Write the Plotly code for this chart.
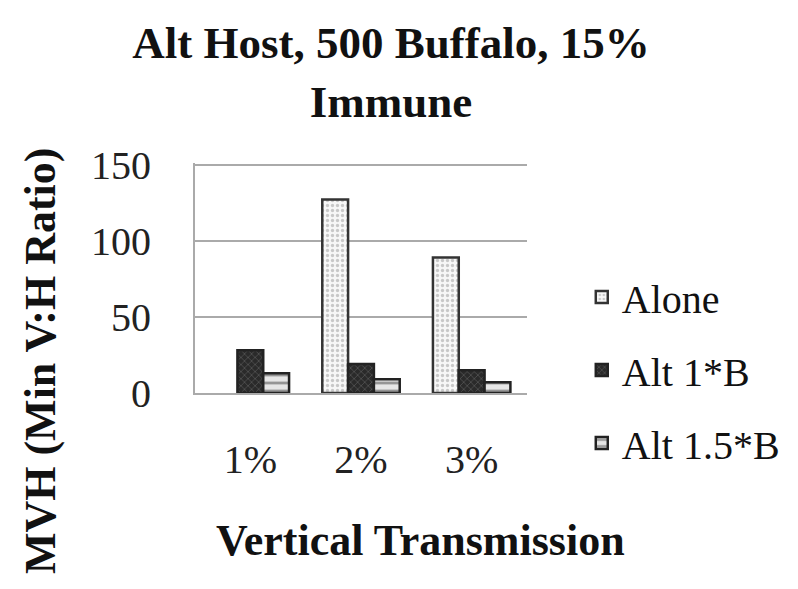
import plotly.graph_objects as go

categories = ["1%", "2%", "3%"]
alone = [None, 127, 89]
alt_1b = [28, 19, 15]
alt_15b = [13, 9, 7]
y_ticks = [0, 50, 100, 150]

SERIF = "Liberation Serif, DejaVu Serif, serif"

fig = go.Figure()
fig.add_bar(x=categories, y=alone, name="Alone", legendgroup="a",
            marker=dict(color="#f2f2f2", line=dict(color="#333", width=2.5),
                        pattern=dict(shape=".", fgcolor="#999", bgcolor="#f7f7f7", size=5, solidity=0.35)))
fig.add_bar(x=categories, y=alt_1b, name="Alt 1*B", legendgroup="b",
            marker=dict(color="#333", line=dict(color="#222", width=2.5),
                        pattern=dict(shape="x", fgcolor="#777", bgcolor="#2a2a2a", size=5, solidity=0.3)))
fig.add_bar(x=categories, y=alt_15b, name="Alt 1.5*B", legendgroup="c",
            marker=dict(color="#ddd", line=dict(color="#222", width=2.5),
                        pattern=dict(shape="-", fgcolor="#444", bgcolor="#e6e6e6", size=8, solidity=0.35)))

fig.update_layout(
    width=798, height=589,
    paper_bgcolor="white", plot_bgcolor="white",
    margin=dict(l=187, r=279, t=155, b=204),
    barmode="group", bargap=0.3, bargroupgap=0,
    font=dict(family=SERIF, color="#111", size=40),
    title=dict(text="<b>Alt Host, 500 Buffalo, 15%<br>Immune</b>", x=0.48, xanchor="center",
               xref="container", yref="container",
               y=0.915, yanchor="middle", font=dict(size=45, family=SERIF)),
    showlegend=True,
    legend=dict(x=1.165, xanchor="left", y=0.1, yanchor="middle", tracegroupgap=18,
                font=dict(size=40, family=SERIF), bgcolor="rgba(0,0,0,0)", itemwidth=30),
    xaxis=dict(showgrid=False, showline=True, linecolor="#aaa", linewidth=2,
               ticks="outside", ticklen=30, tickcolor="rgba(0,0,0,0)",
               tickfont=dict(size=40, family=SERIF, color="#222")),
    yaxis=dict(range=[0, 151], tickvals=y_ticks, showgrid=True, gridcolor="#aaa", gridwidth=2,
               showline=True, linecolor="#aaa", linewidth=2, zeroline=False,
               ticks="outside", ticklen=34, tickcolor="rgba(0,0,0,0)",
               tickfont=dict(size=40, family=SERIF, color="#222")),
)

fig.add_annotation(text="<b>MVH (Min V:H Ratio)</b>", xref="paper", yref="paper",
                   x=-0.467, y=0.143, textangle=-90, showarrow=False,
                   font=dict(size=44, family=SERIF), xanchor="center", yanchor="middle")
fig.add_annotation(text="<b>Vertical Transmission</b>", xref="paper", yref="paper",
                   x=0.678, y=-0.643, showarrow=False,
                   font=dict(size=44, family=SERIF), xanchor="center", yanchor="middle")

fig.write_html("out.html")
